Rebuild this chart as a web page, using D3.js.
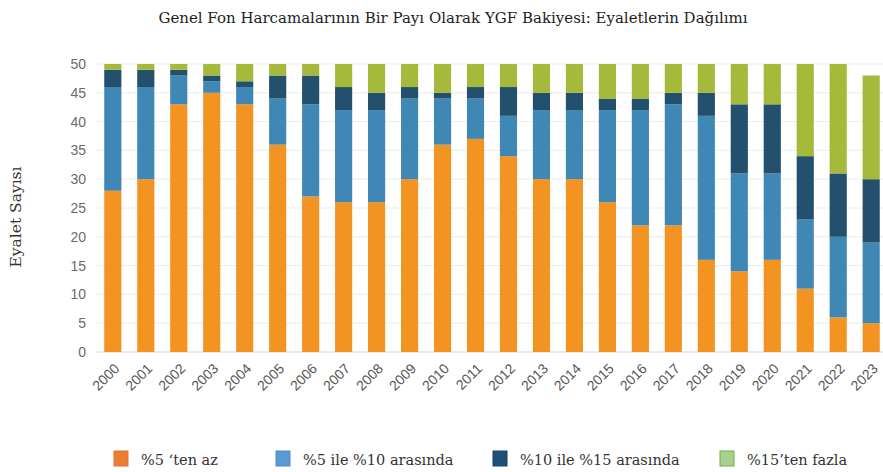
<!DOCTYPE html>
<html lang="tr">
<head>
<meta charset="utf-8">
<script src="https://d3js.org/d3.v7.min.js"></script>
<style>
  body { margin: 0; background: #fff; }
</style>
</head>
<body>
<script type="text/javascript">
  var w = 883;
  var h = 472;

  // yillar ve seriler (eyalet sayisi)
  var years = ["2000","2001","2002","2003","2004","2005","2006","2007","2008","2009","2010","2011",
               "2012","2013","2014","2015","2016","2017","2018","2019","2020","2021","2022","2023"];
  var below5   = [28, 30, 43, 45, 43, 36, 27, 26, 26, 30, 36, 37, 34, 30, 30, 26, 22, 22, 16, 14, 16, 11,  6,  5];
  var from5to10  = [18, 16,  5,  2,  3,  8, 16, 16, 16, 14,  8,  7,  7, 12, 12, 16, 20, 21, 25, 17, 15, 12, 14, 14];
  var from10to15 = [ 3,  3,  1,  1,  1,  4,  5,  4,  3,  2,  1,  2,  5,  3,  3,  2,  2,  2,  4, 12, 12, 11, 11, 11];
  var above15  = [ 1,  1,  1,  2,  3,  2,  2,  4,  5,  4,  5,  4,  4,  5,  5,  6,  6,  5,  5,  7,  7, 16, 19, 18];
  var yTicks = [0, 5, 10, 15, 20, 25, 30, 35, 40, 45, 50];

  var seriesNames = ["%5 \u2018ten az", "%5 ile %10 aras\u0131nda", "%10 ile %15 aras\u0131nda", "%15\u2019ten fazla"];
  var barColors = ["#f39322", "#3f87b5", "#23506c", "#a5b93a"];
  var legendColors = ["#ed7d31", "#5b9bd5", "#1f4e79", "#a9d18e"];
  var legendStroke = ["#e0762c", "#4a8bc8", "#1a4368", "#70ad47"];

  var table = years.map(function(y, i) {
    return { year: y, s0: below5[i], s1: from5to10[i], s2: from10to15[i], s3: above15[i] };
  });

  var svg = d3.select("body")
          .append("svg")
          .attr("width", w)
          .attr("height", h);

  var x = d3.scaleBand()
          .domain(years)
          .range([96, 888])
          .paddingInner(0.48)
          .paddingOuter(0.25);

  var y = d3.scaleLinear()
          .domain([0, 50])
          .range([352, 64]);

  // grid
  svg.append("g")
    .selectAll("line")
    .data(yTicks)
    .join("line")
    .attr("x1", 97)
    .attr("x2", 883)
    .attr("y1", function(d){ return y(d); })
    .attr("y2", function(d){ return y(d); })
    .attr("stroke", function(d){ return d === 0 ? "#d4d4d4" : "#ececec"; })
    .attr("stroke-width", 1);

  // y axis
  var yAxis = svg.append("g")
    .attr("transform", "translate(86,0)")
    .call(d3.axisLeft(y).tickValues(yTicks).tickSize(0).tickPadding(0));
  yAxis.select(".domain").remove();
  yAxis.selectAll("text")
    .attr("font-family", "Liberation Sans, Arial, sans-serif")
    .attr("font-size", "14px")
    .attr("fill", "#6b6b6b");

  // x axis
  var xAxis = svg.append("g")
    .attr("transform", "translate(0,352)")
    .call(d3.axisBottom(x).tickSize(0).tickPadding(0));
  xAxis.select(".domain").remove();
  xAxis.selectAll("text")
    .attr("font-family", "Liberation Sans, Arial, sans-serif")
    .attr("font-size", "14px")
    .attr("fill", "#555")
    .attr("text-anchor", "end")
    .attr("dy", "0.35em")
    .attr("transform", "translate(4,14) rotate(-45)");

  // stacked bars
  var stack = d3.stack().keys(["s0", "s1", "s2", "s3"]);
  var layers = stack(table);

  svg.append("g")
    .selectAll("g")
    .data(layers)
    .join("g")
    .attr("fill", function(d, i){ return barColors[i]; })
    .selectAll("rect")
    .data(function(d){ return d; })
    .join("rect")
    .attr("x", function(d){ return x(d.data.year); })
    .attr("width", x.bandwidth())
    .attr("y", function(d){ return y(d[1]); })
    .attr("height", function(d){ return y(d[0]) - y(d[1]); });

  // title
  svg.append("text")
    .attr("x", 453)
    .attr("y", 23)
    .attr("text-anchor", "middle")
    .attr("font-family", "DejaVu Serif, serif")
    .attr("font-size", "15px")
    .attr("fill", "#222")
    .text("Genel Fon Harcamalar\u0131n\u0131n Bir Pay\u0131 Olarak YGF Bakiyesi: Eyaletlerin Da\u011f\u0131l\u0131m\u0131");

  // y label
  svg.append("text")
    .attr("transform", "translate(21,217) rotate(-90)")
    .attr("text-anchor", "middle")
    .attr("font-family", "DejaVu Serif, serif")
    .attr("font-size", "15.5px")
    .attr("fill", "#333")
    .text("Eyalet Say\u0131s\u0131");

  // legend
  var legendX = [114, 276, 493, 720];
  var legend = svg.append("g")
    .selectAll("g")
    .data(seriesNames)
    .join("g")
    .attr("transform", function(d, i){ return `translate(${legendX[i]},451)`; });

  legend.append("rect")
    .attr("width", 14)
    .attr("height", 15)
    .attr("fill", function(d, i){ return legendColors[i]; })
    .attr("stroke", function(d, i){ return legendStroke[i]; })
    .attr("stroke-width", 1);

  legend.append("text")
    .attr("x", 27)
    .attr("y", 14)
    .attr("font-family", "DejaVu Serif, serif")
    .attr("font-size", "14.5px")
    .attr("fill", "#333")
    .text(function(d){ return d; });
</script>
</body>
</html>
